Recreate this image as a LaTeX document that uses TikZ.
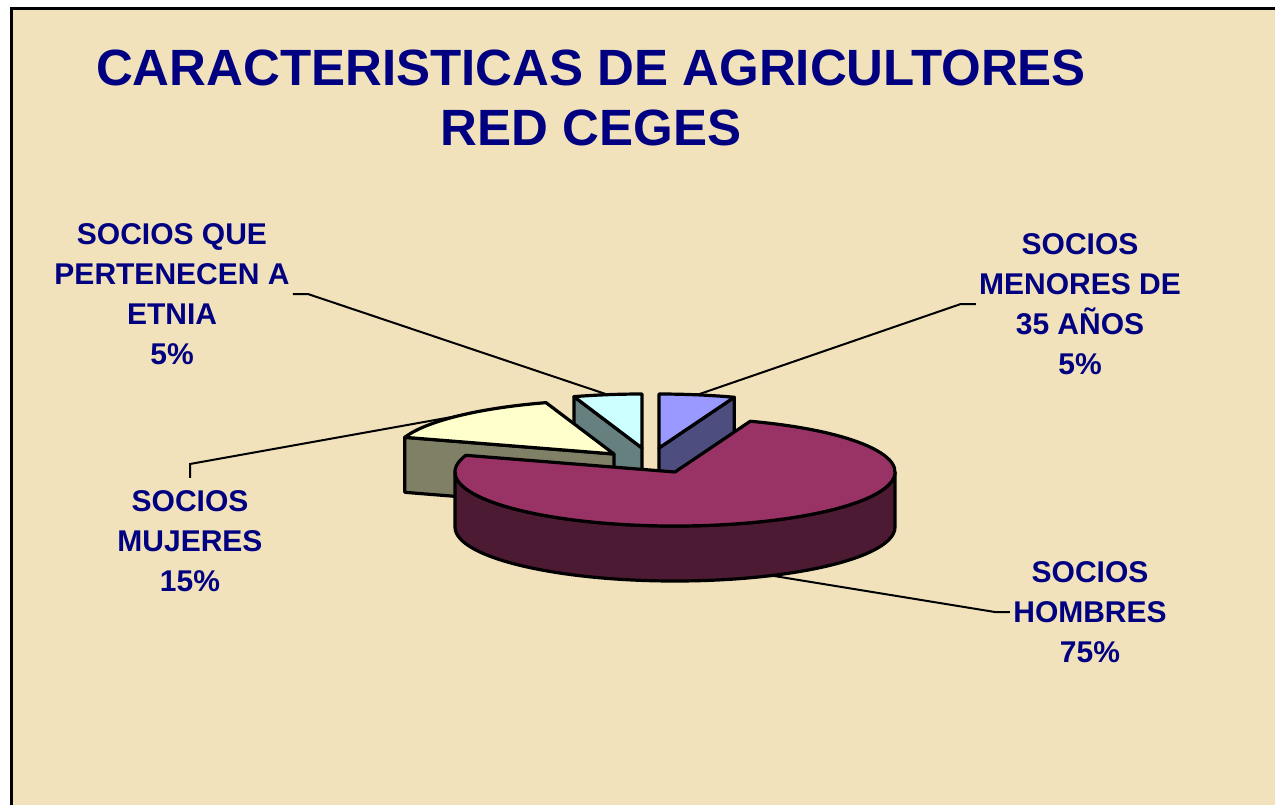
\documentclass[tikz,border=0pt]{standalone}
\usepackage{fontspec}
\setsansfont{Liberation Sans}

\begin{document}
\begin{tikzpicture}[x=0.5pt, y=0.5pt, font=\sffamily\bfseries,
    pieline/.style={draw=black, line width=1.6pt, line join=round},
    leader/.style={draw=black, line width=1pt},
    etiqueta/.style={text=navy, align=center, inner sep=1.5pt,
      font=\sffamily\bfseries\fontsize{15}{20}\selectfont}]

    % Farben
    \definecolor{navy}{RGB}{0,0,128}
    \definecolor{fondo}{RGB}{241,226,188}
    \definecolor{homA}{RGB}{153,51,102}
    \definecolor{homB}{RGB}{77,26,51}
    \definecolor{menA}{RGB}{153,153,255}
    \definecolor{menB}{RGB}{77,77,128}
    \definecolor{etnA}{RGB}{204,255,255}
    \definecolor{etnB}{RGB}{102,128,128}
    \definecolor{mujA}{RGB}{255,255,204}
    \definecolor{mujB}{RGB}{128,128,102}

    % Maße
    \def\ra{220}  % Halbachse x
    \def\rb{54}   % Halbachse y
    \def\dep{55}  % Dicke

    \useasboundingbox (0,0) rectangle (1275,-805);

    % Hintergrund (Pergament)
    \fill[white] (0,0) rectangle (1275,-805);
    \fill[fondo] (11,-8) rectangle (1275,-805);
    \draw[line width=1.5pt] (11,-805) -- (11,-8) -- (1275,-8);

    % Titel
    \node[text=navy, align=center, font=\sffamily\bfseries\fontsize{25.5}{30}\selectfont]
        (titulo) at (591,-98) {CARACTERISTICAS DE AGRICULTORES\\RED CEGES};

    % hintere Stuecke: Mitte x/Mitte y/Start/Ende/Seitenflaeche/Farbe oben/Farbe Seite/Name
    \foreach \cx/\cy/\s/\e/\fa/\ctop/\cside/\nm in {
            659/-448/70/90/70/menA/menB/menores,
            642/-448/90/108/108/etnA/etnB/etnia,
            614/-454/108/162/162/mujA/mujB/mujeres} {
        \pgfmathsetmacro{\mid}{(\s+\e)/2}
        \draw[pieline, fill=\cside] (\cx,\cy)
            -- ({\cx+\ra*cos(\fa)},{\cy+\rb*sin(\fa)})
            -- ({\cx+\ra*cos(\fa)},{\cy+\rb*sin(\fa)-\dep})
            -- ({\cx},{\cy-\dep}) -- cycle;
        \draw[pieline, fill=\ctop] (\cx,\cy) -- ({\cx+\ra*cos(\s)},{\cy+\rb*sin(\s)})
            arc[start angle=\s, end angle=\e, x radius=\ra, y radius=\rb] -- cycle;
        \coordinate (\nm Tip) at ({\cx+\ra*cos(\mid)},{\cy+\rb*sin(\mid)});
    }

    % Hombres (75%)
    \def\cx{675} \def\cy{-472}
    \draw[pieline, fill=homB] ({\cx-\ra},\cy)
        arc[start angle=180, end angle=360, x radius=\ra, y radius=\rb] -- ++(0,-\dep)
        arc[start angle=360, end angle=180, x radius=\ra, y radius=\rb] -- cycle;
    \draw[pieline, fill=homA] (\cx,\cy) -- ({\cx+\ra*cos(162)},{\cy+\rb*sin(162)})
        arc[start angle=162, end angle=430, x radius=\ra, y radius=\rb] -- cycle;
    \coordinate (hombresTip) at ({\cx+\ra*cos(296)},{\cy+\rb*sin(296)-\dep});

    % Beschriftungen
    \node[etiqueta] (etnia) at (172,-294) {SOCIOS QUE\\PERTENECEN A\\ETNIA\\5\%};
    \node[etiqueta] (menores) at (1080,-304) {SOCIOS\\MENORES DE\\35 AÑOS\\5\%};
    \node[etiqueta] (mujeres) at (190,-541) {SOCIOS\\MUJERES\\15\%};
    \node[etiqueta] (hombres) at (1090,-612) {SOCIOS\\HOMBRES\\75\%};

    \draw[leader] (etnia.east) -- ++(15,0) -- (etniaTip);
    \draw[leader] (menores.west) -- ++(-15,0) -- (menoresTip);
    \draw[leader] (mujeres.north) ++(0,9) -- ++(0,14) -- (mujeresTip);
    \draw[leader] (hombres.west) -- ++(-15,0) -- (hombresTip);

\end{tikzpicture}
\end{document}
